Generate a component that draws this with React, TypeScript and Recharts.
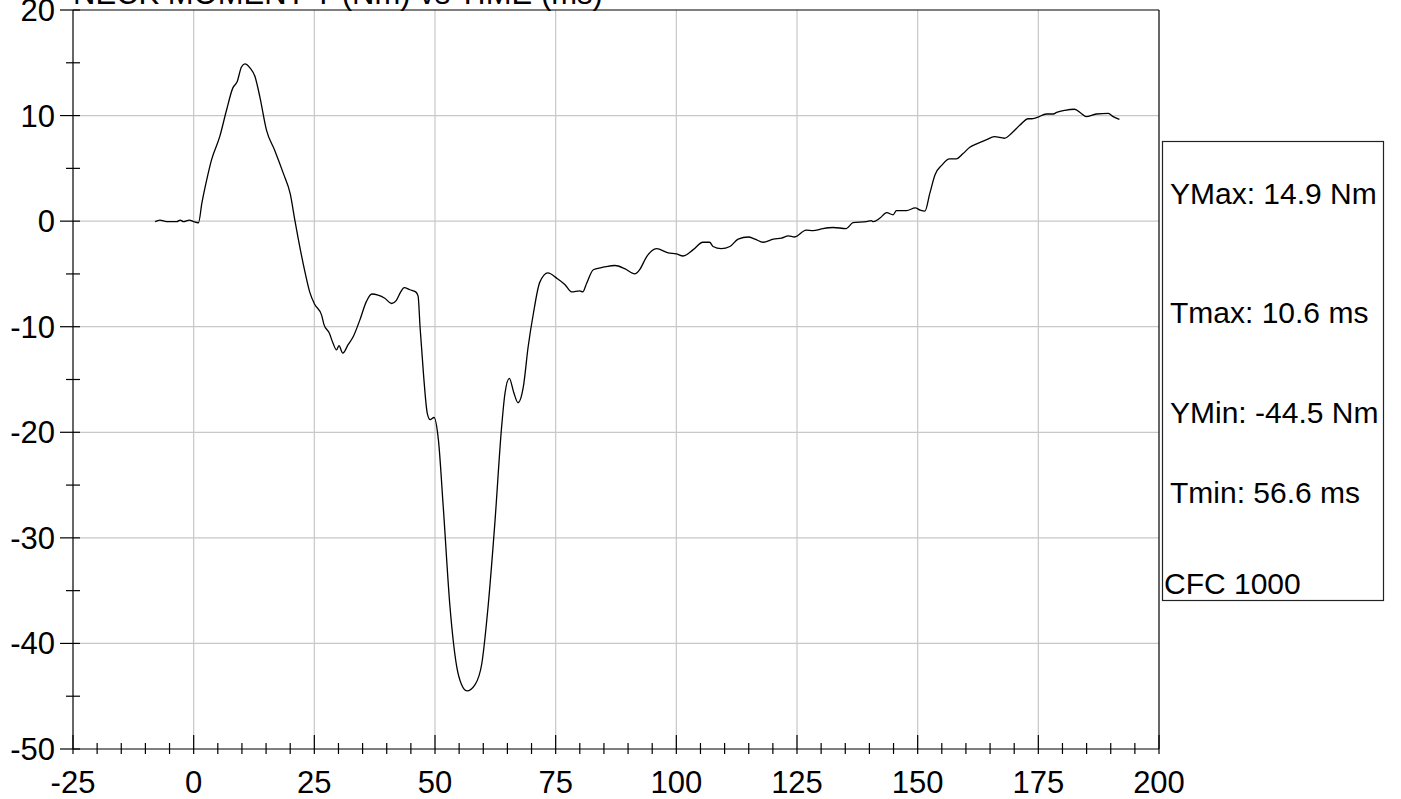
import { LineChart, Line, XAxis, YAxis, CartesianGrid, ReferenceLine } from 'recharts';

const FONT = '"Liberation Sans", Arial, sans-serif';

// time (ms) and neck moment Y (Nm)
const timeMs = [
  -8.0, -7.0, -5.6, -3.5, -2.8, -2.1, -0.9, 0.0, 1.0, 1.7, 2.7, 3.7, 5.4, 6.8, 8.1, 9.0, 9.9, 10.6,
  11.7, 12.7, 13.7, 15.1, 16.8, 18.6, 20.0, 21.0, 22.1, 23.1, 24.1, 25.1, 26.5, 27.0, 28.1, 28.9,
  29.6, 30.1, 30.9, 32.0, 33.1, 34.4, 35.8, 36.9, 38.2, 39.6, 41.0, 42.0, 42.9, 43.6, 44.8, 46.0,
  46.5, 46.9, 47.6, 48.4, 49.0, 49.8, 50.7, 51.7, 53.1, 54.5, 55.5, 56.6, 58.3, 59.7, 61.0, 62.4,
  63.8, 64.5, 65.4, 66.3, 67.2, 68.3, 69.3, 70.4, 71.7, 73.4, 75.2, 76.9, 78.3, 80.0, 80.6, 81.4,
  82.8, 84.5, 85.5, 87.3, 89.3, 91.4, 92.4, 93.8, 95.9, 98.3, 100.0, 101.4, 103.5, 105.5, 106.9,
  107.6, 109.3, 111.1, 112.8, 114.9, 116.3, 118.0, 120.1, 121.8, 123.2, 124.5, 126.9, 128.3, 130.4,
  132.5, 135.2, 136.6, 139.4, 140.4, 140.8, 142.2, 143.6, 144.9, 145.6, 147.7, 149.5, 150.5, 151.5,
  152.5, 153.6, 155.0, 156.6, 158.0, 159.4, 160.8, 162.1, 164.2, 165.9, 168.0, 169.4, 171.2, 172.9,
  173.6, 174.6, 176.7, 178.1, 178.8, 180.5, 182.5, 183.9, 184.9, 187.0, 189.5, 190.5, 191.8,
];

const momentNm = [
  -0.05, 0.1, -0.05, -0.05, 0.1, -0.05, 0.1, -0.05, -0.15, 1.7, 3.9, 5.8, 8.0, 10.5, 12.6, 13.2, 14.6, 14.9,
  14.5, 13.7, 11.8, 8.6, 6.7, 4.5, 2.6, 0.0, -2.7, -4.9, -6.8, -7.9, -8.9, -9.8, -10.6, -11.6,
  -12.2, -11.8, -12.5, -11.7, -10.9, -9.4, -7.6, -6.9, -7.0, -7.3, -7.8, -7.5, -6.7, -6.3, -6.5, -6.7,
  -7.1, -10.0, -14.4, -18.2, -18.8, -18.6, -20.7, -27.0, -36.5, -42.2, -43.9, -44.5, -43.9, -41.9, -36.5, -28.6,
  -19.5, -16.3, -14.9, -16.2, -17.2, -15.7, -11.9, -8.7, -5.8, -4.9, -5.4, -6.0, -6.7, -6.6, -6.7, -5.9,
  -4.6, -4.4, -4.3, -4.2, -4.5, -5.0, -4.6, -3.4, -2.6, -3.0, -3.1, -3.3, -2.7, -2.0, -2.0,
  -2.4, -2.6, -2.4, -1.7, -1.5, -1.7, -2.0, -1.7, -1.6, -1.4, -1.5, -0.85, -0.9, -0.7,
  -0.6, -0.7, -0.15, -0.05, 0.05, -0.05, 0.3, 0.8, 0.6, 1.0, 1.0, 1.25, 1.05, 0.95,
  2.6, 4.4, 5.3, 5.9, 5.9, 6.4, 7.0, 7.3, 7.7, 8.0, 7.85, 8.3, 9.1, 9.7,
  9.7, 9.8, 10.15, 10.15, 10.3, 10.5, 10.6, 10.2, 9.9, 10.15, 10.2, 9.9, 9.65,
];

const xMajorTicks = [-25, 0, 25, 50, 75, 100, 125, 150, 175, 200];
const xMinorTicks = [
  -20, -15, -10, -5, 5, 10, 15, 20, 30, 35, 40, 45, 55, 60, 65, 70, 80, 85, 90, 95,
  105, 110, 115, 120, 130, 135, 140, 145, 155, 160, 165, 170, 180, 185, 190, 195,
];
const yMajorTicks = [-50, -40, -30, -20, -10, 0, 10, 20];
const yMinorTicks = [-45, -35, -25, -15, -5, 5, 15];

const statLines = ['YMax: 14.9 Nm', 'Tmax: 10.6 ms', 'YMin: -44.5 Nm', 'Tmin: 56.6 ms', 'CFC 1000'];

const chartData = timeMs.map((t, i) => ({ t, m: momentNm[i] }));
const xTicks = [...xMajorTicks, ...xMinorTicks].sort((a, b) => a - b);
const yTicks = [...yMajorTicks, ...yMinorTicks].sort((a, b) => a - b);

const XTick = (props: any) => {
  const { x, y, payload } = props;
  const major = xMajorTicks.includes(payload.value);
  return (
    <g>
      <line x1={x} x2={x} y1={y - (major ? 14 : 6)} y2={y + 5} stroke="#000" strokeWidth={1.2} />
      {major && (
        <text x={x} y={y + 44} textAnchor="middle" fontSize={31} fill="#000" fontFamily={FONT}>
          {payload.value}
        </text>
      )}
    </g>
  );
};

const YTick = (props: any) => {
  const { x, y, payload } = props;
  const major = yMajorTicks.includes(payload.value);
  return (
    <g>
      <line x1={x - (major ? 13 : 7)} x2={x + 7} y1={y} y2={y} stroke="#000" strokeWidth={1.2} />
      {major && (
        <text x={x - 18} y={y + 11} textAnchor="end" fontSize={31} fill="#000" fontFamily={FONT}>
          {payload.value}
        </text>
      )}
    </g>
  );
};

const statBaselines = [204, 323, 423, 503, 594];
const statX = [1170, 1170, 1170, 1170, 1164];

export default function App() {
  return (
    <div style={{ position: 'absolute', left: 0, top: 0, width: 1401, height: 799, background: '#fff' }}>
      <LineChart
        width={1401}
        height={799}
        data={chartData}
        margin={{ top: 10, right: 242, bottom: 0, left: 0 }}
      >
        <CartesianGrid
          stroke="#c8c8c8"
          strokeWidth={1.2}
          verticalValues={xMajorTicks.slice(1, -1)}
          horizontalValues={yMajorTicks.slice(1, -1)}
        />
        <XAxis
          dataKey="t"
          type="number"
          domain={[-25, 200]}
          ticks={xTicks}
          interval={0}
          allowDataOverflow
          height={50}
          tickSize={0}
          tickMargin={0}
          tickLine={false}
          axisLine={{ stroke: '#000', strokeWidth: 1.2 }}
          tick={<XTick />}
        />
        <YAxis
          type="number"
          domain={[-50, 20]}
          ticks={yTicks}
          interval={0}
          allowDataOverflow
          width={73}
          tickSize={0}
          tickMargin={0}
          tickLine={false}
          axisLine={{ stroke: '#000', strokeWidth: 1.2 }}
          tick={<YTick />}
        />
        <ReferenceLine y={20} stroke="#000" strokeWidth={1.2} />
        <ReferenceLine x={200} stroke="#000" strokeWidth={1.2} />
        <Line
          type="monotone"
          dataKey="m"
          stroke="#000"
          strokeWidth={1.3}
          dot={false}
          isAnimationActive={false}
        />
      </LineChart>
      <svg
        width={1401}
        height={799}
        style={{ position: 'absolute', left: 0, top: 0, pointerEvents: 'none' }}
      >
        <text x={73} y={4} fontSize={31} fill="#000" fontFamily={FONT}>
          NECK MOMENT Y (Nm) vs TIME (ms)
        </text>
        <rect x={1162.5} y={141.5} width={221} height={459} fill="#fff" stroke="#222" strokeWidth={1.2} />
        {statLines.map((s, i) => (
          <text key={s} x={statX[i]} y={statBaselines[i]} fontSize={30} fill="#000" fontFamily={FONT}>
            {s}
          </text>
        ))}
      </svg>
    </div>
  );
}
